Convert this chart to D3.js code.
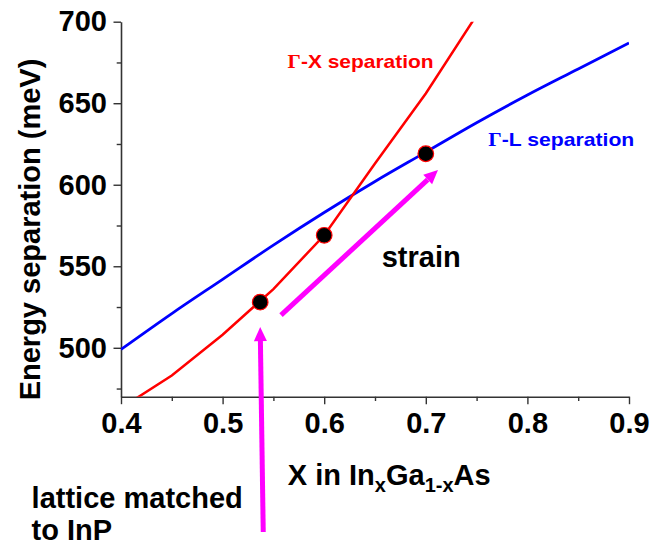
<!DOCTYPE html>
<html>
<head>
<meta charset="utf-8">
<script src="https://cdn.jsdelivr.net/npm/d3@7"></script>
<style>
  body { margin: 0; background: #fff; }
  svg { display: block; font-family: "Liberation Sans", Arial, sans-serif; font-weight: bold; }
</style>
</head>
<body>
<svg id="chart"></svg>
<script>
// Data
const glX = [0.40, 0.45, 0.50, 0.55, 0.60, 0.65, 0.70, 0.75, 0.80, 0.85, 0.90];
const glValues = [499, 521, 542, 563, 583, 602, 620, 638, 655, 671, 687];

const gxX = [0.40, 0.45, 0.50, 0.55, 0.60, 0.65, 0.70, 0.75];
const gxValues = [463, 483, 508, 536, 569, 613, 656, 704];

const dotX = [0.537, 0.60, 0.70];
const dotValues = [528, 569, 619];

const xTicks = [0.4, 0.5, 0.6, 0.7, 0.8, 0.9];
const xMinorTicks = [0.45, 0.55, 0.65, 0.75, 0.85];
const yTicks = [500, 550, 600, 650, 700];
const yMinorTicks = [475, 525, 575, 625, 675];

// annotation arrows, in data units: [x0, y0, x1 (tip), y1 (tip)]
const strainArrow = [0.5575, 520, 0.712, 609];
const latticeArrow = [0.540, 387, 0.537, 512.7];

// Set up dimensions
const W = 655, H = 546;
const margin = { top: 21.7, left: 121 };
const width = 508;
const height = 375;

const svg = d3.select('#chart')
  .attr('width', W)
  .attr('height', H);

const g = svg.append('g')
  .attr('transform', `translate(${margin.left}, ${margin.top})`);

// Scales
const x = d3.scaleLinear().domain([0.4, 0.9]).range([0, width]);
const y = d3.scaleLinear().domain([470, 700]).range([height, 0]);

// Clip to plot area
svg.append('defs').append('clipPath').attr('id', 'plot-clip')
  .append('rect').attr('x', 0).attr('y', 0).attr('width', width).attr('height', height);

// Axes
const axisColor = '#333';
const styleAxis = sel => {
  sel.select('.domain').attr('stroke', axisColor).attr('stroke-width', 1.6);
  sel.selectAll('.tick line').attr('stroke', axisColor).attr('stroke-width', 1.4);
  sel.selectAll('.tick text')
    .attr('fill', '#000')
    .style('font-size', '29px')
    .style('font-weight', 'bold')
    .style('font-family', '"Liberation Sans", Arial, sans-serif');
};

g.append('g')
  .attr('transform', `translate(0, ${height})`)
  .call(d3.axisBottom(x).tickValues(xMinorTicks).tickSize(4.3).tickSizeOuter(0).tickFormat(''))
  .call(sel => sel.select('.domain').remove())
  .call(styleAxis);

g.append('g')
  .call(d3.axisLeft(y).tickValues(yMinorTicks).tickSize(4.3).tickSizeOuter(0).tickFormat(''))
  .call(sel => sel.select('.domain').remove())
  .call(styleAxis);

g.append('g')
  .attr('transform', `translate(0, ${height})`)
  .call(d3.axisBottom(x).tickValues(xTicks).tickSize(7.5).tickSizeOuter(0).tickPadding(8).tickFormat(d3.format('.1f')))
  .call(styleAxis);

g.append('g')
  .call(d3.axisLeft(y).tickValues(yTicks).tickSize(7.5).tickSizeOuter(0).tickPadding(6.5))
  .call(styleAxis);

// Axis titles
svg.append('text')
  .attr('transform', `translate(40, 229.5) rotate(-90)`)
  .attr('text-anchor', 'middle')
  .style('font-size', '29px')
  .text('Energy separation (meV)');

const xTitle = svg.append('text')
  .attr('x', margin.left + x(0.664))
  .attr('y', 484.6)
  .attr('text-anchor', 'middle')
  .style('font-size', '29px');
xTitle.append('tspan').text('X in In');
xTitle.append('tspan').attr('dy', 7).style('font-size', '20px').text('x');
xTitle.append('tspan').attr('dy', -7).text('Ga');
xTitle.append('tspan').attr('dy', 7).style('font-size', '20px').text('1-x');
xTitle.append('tspan').attr('dy', -7).text('As');

// Curves
const plot = g.append('g').attr('clip-path', 'url(#plot-clip)');

const glLine = d3.line().x((d, i) => x(glX[i])).y(d => y(d)).curve(d3.curveMonotoneX);
const gxLine = d3.line().x((d, i) => x(gxX[i])).y(d => y(d));

plot.append('path')
  .datum(glValues)
  .attr('d', glLine)
  .attr('fill', 'none')
  .attr('stroke', '#0000ff')
  .attr('stroke-width', 2.8);

plot.append('path')
  .datum(gxValues)
  .attr('d', gxLine)
  .attr('fill', 'none')
  .attr('stroke', '#ff0000')
  .attr('stroke-width', 2.5);

// Dots
g.selectAll('.dot')
  .data(dotValues)
  .enter()
  .append('circle')
  .attr('class', 'dot')
  .attr('cx', (d, i) => x(dotX[i]))
  .attr('cy', d => y(d))
  .attr('r', 7.8)
  .attr('fill', '#000')
  .attr('stroke', '#ff0000')
  .attr('stroke-width', 1.2);

// Arrows
const drawArrow = a => {
  const x0 = x(a[0]), y0 = y(a[1]), x1 = x(a[2]), y1 = y(a[3]);
  const ang = Math.atan2(y1 - y0, x1 - x0);
  const headLen = 14, headHalf = 6.5;
  const bx = x1 - headLen * Math.cos(ang), by = y1 - headLen * Math.sin(ang);
  g.append('line')
    .attr('x1', x0).attr('y1', y0)
    .attr('x2', bx).attr('y2', by)
    .attr('stroke', '#ff00ff')
    .attr('stroke-width', 5);
  const px = -Math.sin(ang) * headHalf, py = Math.cos(ang) * headHalf;
  g.append('polygon')
    .attr('points', [[x1, y1], [bx + px, by + py], [bx - px, by - py]].map(p => p.join(',')).join(' '))
    .attr('fill', '#ff00ff');
};
drawArrow(strainArrow);
drawArrow(latticeArrow);

// Curve labels
const curveLabel = (lx, ly, rest, color) => {
  const t = g.append('text')
    .attr('x', x(lx))
    .attr('y', y(ly))
    .attr('fill', color)
    .attr('textLength', 146)
    .attr('lengthAdjust', 'spacingAndGlyphs')
    .style('font-size', '18.5px');
  t.append('tspan').style('font-family', '"Liberation Serif", "Times New Roman", serif').text('\u0393');
  t.append('tspan').text(rest);
};
curveLabel(0.564, 671.8, '-X separation', '#ff0000');
curveLabel(0.7615, 623.7, '-L separation', '#0000ff');

// Text annotations
g.append('text')
  .attr('x', x(0.6566))
  .attr('y', y(549.7))
  .style('font-size', '29px')
  .text('strain');

g.append('text')
  .attr('x', x(0.312))
  .attr('y', y(401.6))
  .style('font-size', '29px')
  .text('lattice matched');

g.append('text')
  .attr('x', x(0.312))
  .attr('y', y(382))
  .style('font-size', '29px')
  .text('to InP');
</script>
</body>
</html>
